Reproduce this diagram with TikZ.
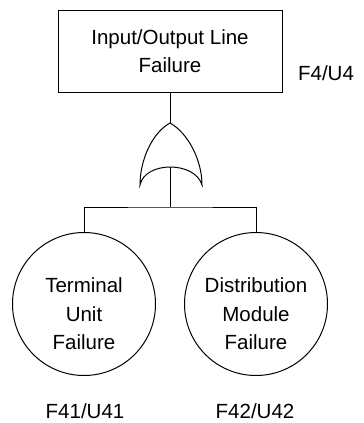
\documentclass[tikz,border=0pt]{standalone}
\usepackage{fontspec}
\setmainfont{Liberation Sans}
\usetikzlibrary{positioning, calc}
\tikzset{
  every picture/.style={line width=1pt},
  txt/.style={font=\fontsize{20.5}{28.5}\selectfont},
  event/.style={draw, rectangle, minimum width=224pt, minimum height=82pt, align=center, inner sep=0pt},
  basic/.style={draw, circle, minimum size=143pt, inner sep=0pt,
    label={[txt, align=center, yshift=-10pt]center:#1}},
  code/.style={anchor=base},
}

\begin{document}
\begin{tikzpicture}[x=1pt, y=-1pt, every node/.append style={txt}]
  \useasboundingbox (0,0) rectangle (364,423);
  % top event
  \node[event] (io) at (170,51) {Input/Output Line\\Failure};
  \node[code] (cio) at (326,80) {F4/U4};
  % OR gate
  \coordinate (gtop) at (170,123);
  \coordinate (gin) at (170,167);
  \draw (gtop) .. controls (152,133) and (140,160) .. (140,185)
        .. controls (145,161) and (195,161) .. (202,185)
        .. controls (202,160) and (188,133) .. (gtop);
  % basic events
  \node[basic={Terminal\\Unit\\Failure}] (tu) at (84,304) {};
  \node[basic={Distribution\\Module\\Failure}] (dm) at (256,304) {};
  \node[code] (ctu) at (85,418) {F41/U41};
  \node[code] (cdm) at (255,418) {F42/U42};
  % connectors
  \coordinate (fork) at (170,207);
  \draw (io) -- (gtop);
  \draw (gin) -- (fork);
  \draw (tu.north) |- (fork) -| (dm.north);
\end{tikzpicture}
\end{document}
